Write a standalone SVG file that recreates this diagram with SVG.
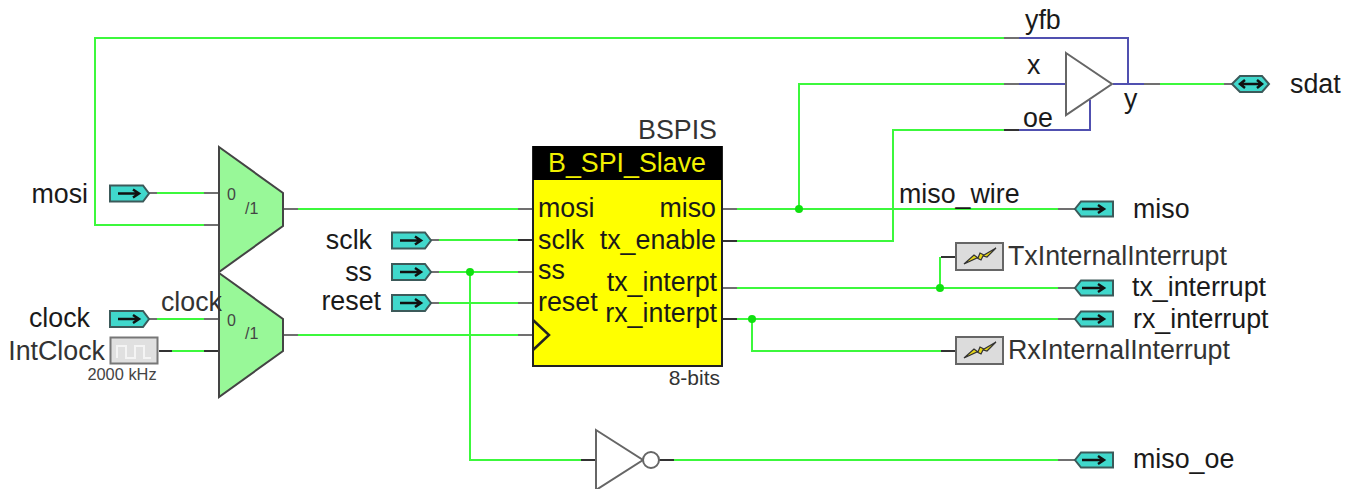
<svg xmlns="http://www.w3.org/2000/svg" width="1354" height="489" viewBox="0 0 1354 489">
<style>
text{font-family:"Liberation Sans",Arial,sans-serif;fill:#1a1a1a;font-size:26.800px}
.w{fill:none;stroke:#3cf83c;stroke-width:2}
.s{fill:none;stroke:#707070;stroke-width:2}
.k{fill:none;stroke:#333;stroke-width:2}
.b{fill:none;stroke:#5050b0;stroke-width:2}
.pin{fill:#40d8cc;stroke:#3c5a5a;stroke-width:2}
.arr{fill:none;stroke:#111;stroke-width:2.500}
.mux{fill:#98f898;stroke:#444;stroke-width:2}
.tri{fill:#fff;stroke:#666;stroke-width:2}
.dot{fill:#10e010}
.irq{fill:#dcdcdc;stroke:#666;stroke-width:2}
.bolt{fill:#e8d818;stroke:#333;stroke-width:1.200}
.sm{font-size:16.400px;fill:#444}
.mx{font-size:16px;fill:#444}
.r{text-anchor:end}
.g{fill:#333}
</style>
<defs>
<g id="pinIn"><path class="pin" d="M110 -8H143L149 0L143 8H110Z"/><path class="arr" d="M118 0H139M133 -4L139 0L133 4"/></g>
<g id="pinOut"><path class="pin" d="M1113 -7.500H1081L1075 0L1081 7.500H1113Z"/><path class="arr" d="M1082 0H1104M1098 -4L1104 0L1098 4"/></g>
<g id="irq"><rect class="irq" x="956" y="-14" width="47" height="27"/><path class="bolt" d="M964 7L974 -2L978 1L980 -4L984 -2L996 -9L987 0L983 -1L981 3L977 1Z"/></g>
</defs>

<g id="connectors">
<path class="w" d="M204 225H95V38H1004"/>
<path class="w" d="M157 193H204"/>
<path class="w" d="M157 319H204"/>
<path class="w" d="M172 351H204"/>
<path class="w" d="M298 209H518"/>
<path class="w" d="M298 335H518"/>
<path class="w" d="M439 240H518"/>
<path class="w" d="M439 272H518"/>
<path class="w" d="M439 303H518"/>
<path class="w" d="M470 272V460H581"/>
<path class="w" d="M737 209H1058"/>
<path class="w" d="M799 209V84H1004"/>
<path class="w" d="M737 241H893V130H1004"/>
<path class="w" d="M737 288H1058"/>
<path class="w" d="M940 288V257"/>
<path class="w" d="M737 319H1058"/>
<path class="w" d="M752 319V351H941"/>
<path class="w" d="M674 460H1058"/>
<path class="w" d="M1160 84H1224"/>
<path class="s" d="M204 193H219M204 225H219M204 319H219"/>
<path class="k" d="M159 351H172M204 351H219"/>
<path class="s" d="M283 209H298M283 335H298"/>
<path class="s" d="M518 209H533M518 272H533M518 303H533M518 335H533M722 209H737M722 288H737"/>
<path class="k" d="M518 240H533M722 241H737M722 319H737"/>
<path class="s" d="M1058 209H1075M1058 288H1075M1058 319H1075M1058 460H1075"/>
<path class="s" d="M1004 38H1019M1004 84H1019"/>
<path class="k" d="M1004 130H1019M941 257H956M941 351H956"/>
<path class="k" d="M581 460H596M659 460H674"/>
<path class="s" d="M1144 84H1160M1224 84H1232M149 193H157M149 319H157M430 240H439M430 272H439M430 303H439"/>
<path class="b" d="M1019 38H1128V84M1019 84H1066M1113 84H1144M1019 130H1090V100"/>
<circle class="dot" cx="470" cy="272" r="4"/>
<circle class="dot" cx="799" cy="209" r="4"/>
<circle class="dot" cx="940" cy="288" r="4"/>
<circle class="dot" cx="752" cy="319" r="4"/>
</g>

<g id="mosi"><use href="#pinIn" y="193.500"/><text x="88" y="203" class="r">mosi</text></g>
<g id="clock"><use href="#pinIn" y="319"/><text x="90" y="327" class="r">clock</text></g>
<g id="IntClock"><rect x="110.500" y="337.500" width="47" height="26" fill="#e0e0e0" stroke="#777" stroke-width="2"/><path d="M117 358V346H126V358H135V346H144V358H151" fill="none" stroke="#f4f4f4" stroke-width="2"/><text x="105" y="359.500" class="r g">IntClock</text><text x="122" y="380" class="sm" text-anchor="middle">2000 kHz</text></g>
<g id="mux1"><path class="mux" d="M219 147L283 193V226L219 272Z"/><text x="227" y="200" class="mx">0</text><text x="245" y="214" class="mx">/1</text></g>
<g id="mux2"><path class="mux" d="M219 273L283 319V351L219 397Z"/><text x="227" y="326" class="mx">0</text><text x="245" y="339" class="mx">/1</text><text x="222" y="311" class="r g">clock</text></g>
<g id="sclk"><use href="#pinIn" x="282" y="240.500"/><text x="372" y="249" class="r">sclk</text></g>
<g id="ss"><use href="#pinIn" x="282" y="272"/><text x="372" y="281" class="r">ss</text></g>
<g id="reset"><use href="#pinIn" x="282" y="303"/><text x="381" y="310" class="r">reset</text></g>

<g id="BSPIS">
<rect x="533" y="147" width="189" height="219" fill="#ffff00" stroke="#222" stroke-width="2"/>
<rect x="533" y="146" width="189" height="34" fill="#000"/>
<text x="627" y="172" text-anchor="middle" style="fill:#f0f000">B_SPI_Slave</text>
<text x="717" y="139" class="r g">BSPIS</text>
<text x="538" y="217">mosi</text>
<text x="538" y="249">sclk</text>
<text x="538" y="279">ss</text>
<text x="538" y="311">reset</text>
<text x="716" y="217" class="r">miso</text>
<text x="716" y="249" class="r">tx_enable</text>
<text x="717" y="291" class="r">tx_interpt</text>
<text x="717" y="322" class="r">rx_interpt</text>
<path d="M533 320L549 335L533 350" fill="none" stroke="#222" stroke-width="2.500"/>
<text x="720" y="385" class="r g" style="font-size:21px">8-bits</text>
</g>

<g id="tribuf">
<path class="tri" d="M1066 53L1112 84L1066 115Z"/>
<text x="1025" y="29">yfb</text>
<text x="1027" y="74">x</text>
<text x="1023" y="127">oe</text>
<text x="1124" y="108">y</text>
</g>
<g id="sdat"><path class="pin" d="M1232 84L1240 76H1262L1269 84L1262 92H1240Z"/><path class="arr" d="M1241 84H1261M1245 80L1240 84L1245 88M1257 80L1262 84L1257 88"/><text x="1290" y="93">sdat</text></g>
<g id="miso"><use href="#pinOut" y="209"/><text x="1133" y="218">miso</text></g>
<text id="miso_wire" x="899" y="203">miso_wire</text>
<g id="TxInternalInterrupt"><use href="#irq" y="257"/><text x="1008" y="265" class="g">TxInternalInterrupt</text></g>
<g id="tx_interrupt"><use href="#pinOut" y="288"/><text x="1132" y="296">tx_interrupt</text></g>
<g id="rx_interrupt"><use href="#pinOut" y="319"/><text x="1133" y="328">rx_interrupt</text></g>
<g id="RxInternalInterrupt"><use href="#irq" y="351"/><text x="1008" y="359" class="g">RxInternalInterrupt</text></g>
<g id="inverter"><path class="tri" d="M596 430L643 460L596 490Z"/><circle cx="651" cy="460" r="8" fill="#fff" stroke="#666" stroke-width="2"/></g>
<g id="miso_oe"><use href="#pinOut" y="460"/><text x="1133" y="468">miso_oe</text></g>
</svg>
